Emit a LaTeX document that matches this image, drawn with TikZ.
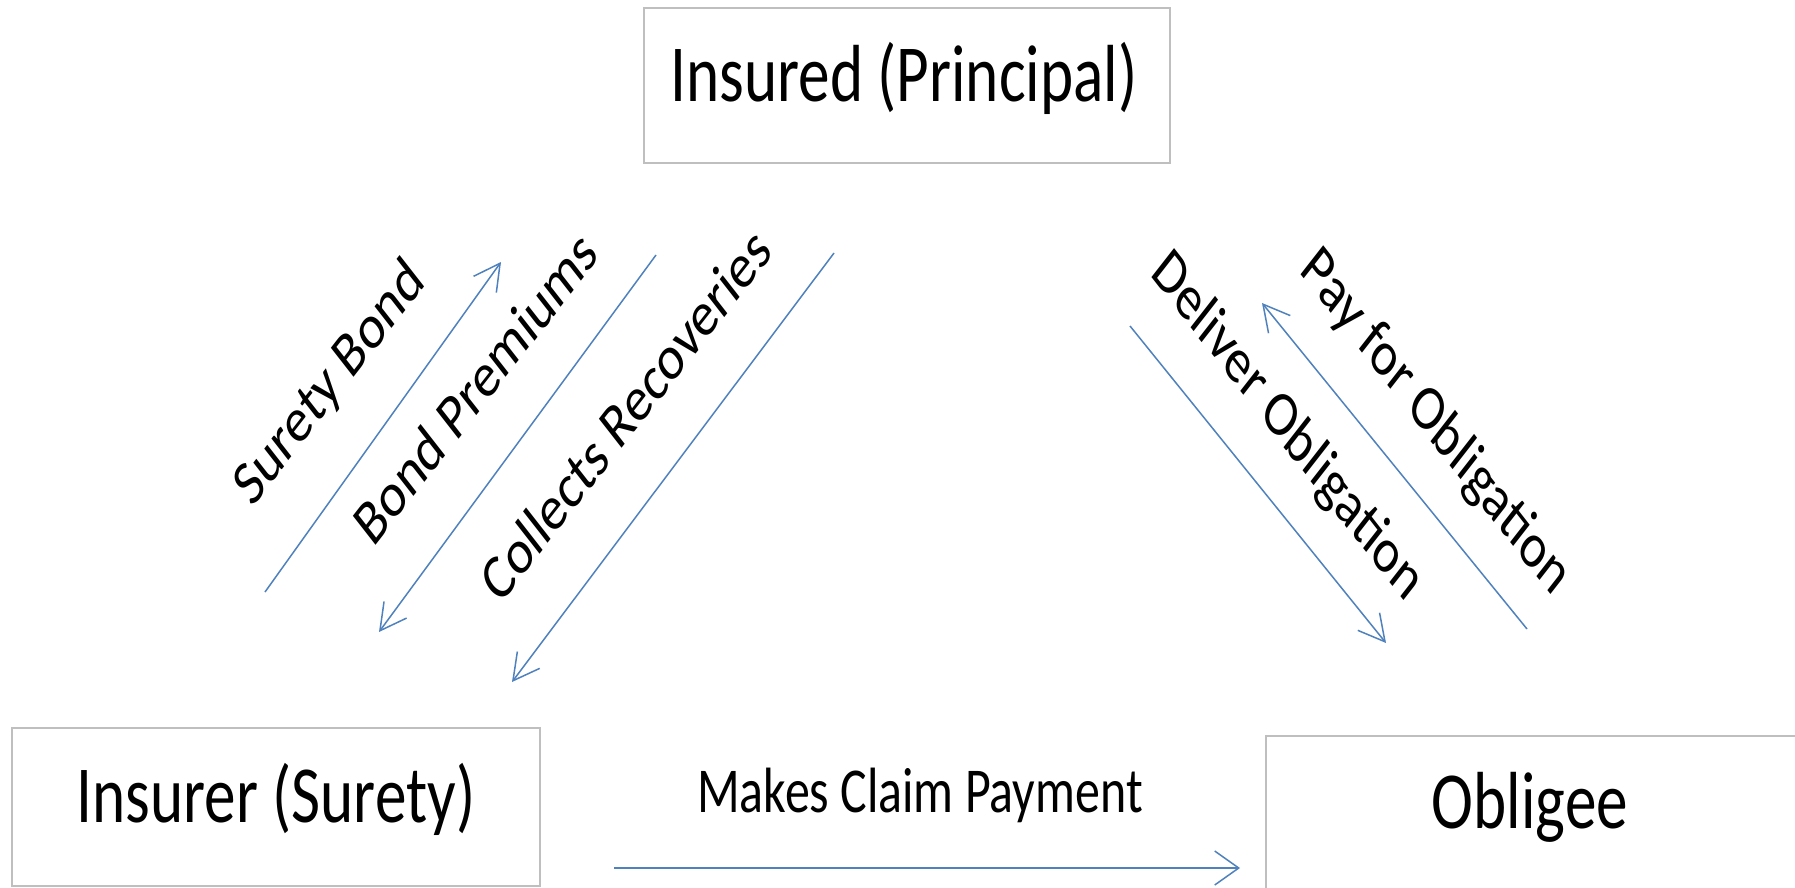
\documentclass[tikz,border=0pt]{standalone}
\usepackage{fontspec}
\setmainfont{Carlito}
\usetikzlibrary{arrows.meta}
\definecolor{boxgray}{HTML}{BFBFBF}
\definecolor{arrowblue}{HTML}{4F81BD}
\newcommand\sqlabel[6]{%
  \begin{scope}[shift={(#2,#3)},xscale=0.78]
    \node[#5,rotate=#4,transform shape] (#1) at (0,0) {#6};
  \end{scope}}
\begin{document}
\begin{tikzpicture}[x=1pt,y=-1pt,
  box/.style={draw=boxgray, line width=2.5pt, rectangle, inner sep=0pt},
  bigtext/.style={inner sep=0pt, font=\fontsize{81}{97}\selectfont},
  smalltext/.style={inner sep=0pt, font=\fontsize{64}{77}\selectfont},
  diag/.style={draw=arrowblue, line width=1.5pt, -{Straight Barb[length=26pt,width=28pt,line width=1.5pt]}},
  claim/.style={draw=arrowblue, line width=2.75pt, -{Straight Barb[length=24pt,width=34pt,line width=1.5pt]}}
]
\useasboundingbox (0,0) rectangle (1795,888);
\clip (0,0) rectangle (1795,888);

% boxes
\node[box, minimum width=526pt, minimum height=155pt] (principal) at (907,85.5) {};
\node[box, minimum width=528pt, minimum height=158pt] (surety) at (276,807) {};
\node[box, minimum width=531pt, minimum height=164pt] (obligee) at (1531.5,818) {};

% box texts
\sqlabel{principaltext}{904}{102}{0}{bigtext,anchor=base}{Insured (Principal)}
\sqlabel{suretytext}{276}{822}{0}{bigtext,anchor=base}{Insurer (Surety)}
\sqlabel{obligeetext}{1530}{828}{0}{bigtext,anchor=base}{Obligee}
\sqlabel{claimtext}{920}{812}{0}{smalltext,anchor=base}{Makes Claim Payment}

% rotated labels
\sqlabel{bondlabel}{330}{384}{45}{smalltext}{Surety Bond}
\sqlabel{premlabel}{475}{387}{45}{smalltext}{Bond Premiums}
\sqlabel{recovlabel}{625}{414}{45}{smalltext}{Collects Recoveries}
\sqlabel{deliverlabel}{1287}{427}{-45}{smalltext}{Deliver Obligation}
\sqlabel{paylabel}{1435}{423}{-45}{smalltext}{Pay for Obligation}

% arrow end points
\coordinate (sb1) at (265,592); \coordinate (sb2) at (501,262);
\coordinate (bp1) at (656,255); \coordinate (bp2) at (379,632);
\coordinate (cr1) at (834,253); \coordinate (cr2) at (512,682);
\coordinate (do1) at (1130,326); \coordinate (do2) at (1386,643);
\coordinate (pf1) at (1527,629); \coordinate (pf2) at (1262,303);
\coordinate (mc1) at (614,868); \coordinate (mc2) at (1240,868);

\draw[diag] (sb1) -- (sb2);
\draw[diag] (bp1) -- (bp2);
\draw[diag] (cr1) -- (cr2);
\draw[diag] (do1) -- (do2);
\draw[diag] (pf1) -- (pf2);
\draw[claim] (mc1) -- (mc2);
\end{tikzpicture}
\end{document}
